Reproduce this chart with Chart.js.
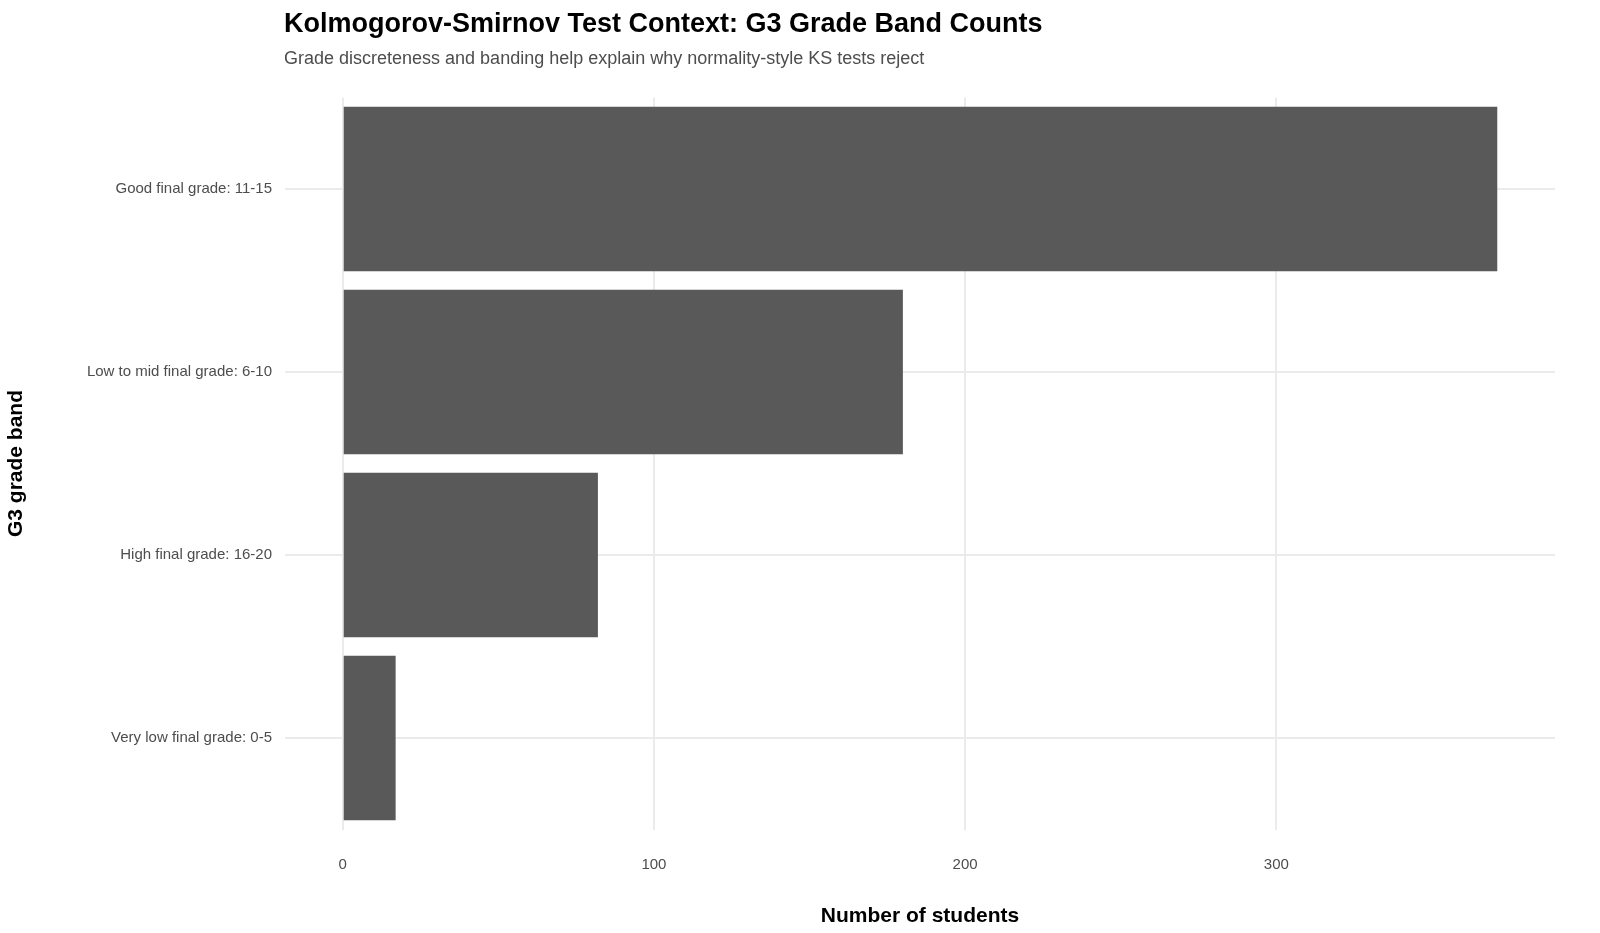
<!DOCTYPE html>
<html><head><meta charset="utf-8">
<script src="https://cdn.jsdelivr.net/npm/chart.js@4.4.0/dist/chart.umd.min.js"></script>
<style>html,body{margin:0;padding:0;background:#fff}#w{width:1600px;height:933px}</style>
</head><body><div id="w"><canvas id="c"></canvas></div>
<script>
const categories = ["Good final grade: 11-15","Low to mid final grade: 6-10","High final grade: 16-20","Very low final grade: 0-5"];
const counts = [371, 180, 82, 17];
const xTicks = [0, 100, 200, 300];
const titleText = "Kolmogorov-Smirnov Test Context: G3 Grade Band Counts";
const subtitleText = "Grade discreteness and banding help explain why normality-style KS tests reject";
const F = "Arial, 'Liberation Sans', sans-serif";
const titles = {id:'titles', afterDraw(ch){const c=ch.ctx;c.save();c.textBaseline='alphabetic';c.textAlign='left';
 c.fillStyle='#000';c.font='bold 27px '+F;c.fillText(titleText,284,32);
 c.fillStyle='#4d4d4d';c.font='18px '+F;c.fillText(subtitleText,284,64);c.restore();}};
new Chart(document.getElementById('c'),{type:'bar',
 data:{labels:categories,datasets:[{data:counts,backgroundColor:'#595959',barPercentage:0.9,categoryPercentage:1}]},
 options:{indexAxis:'y',responsive:true,maintainAspectRatio:false,animation:false,
  layout:{padding:{top:97.5,right:45,left:0,bottom:0}},
  plugins:{legend:{display:false},tooltip:{enabled:false}},
  scales:{
   x:{min:-18.55,max:389.55,afterBuildTicks(a){a.ticks=xTicks.map(v=>({value:v}));},
      afterFit(a){a.height=103.5;},
      grid:{color:'#ebebeb',lineWidth:2,drawTicks:false},border:{display:false},
      ticks:{color:'#4d4d4d',font:{size:15,family:F},padding:26},
      title:{display:true,text:'Number of students',color:'#000',font:{size:21,weight:'bold',family:F},padding:{top:0}}},
   y:{afterFit(a){a.width=285;},
      grid:{color:'#ebebeb',lineWidth:2,drawTicks:false,offset:false},border:{display:false},
      ticks:{color:'#4d4d4d',font:{size:15,family:F},padding:13},
      title:{display:true,text:'G3 grade band',color:'#000',font:{size:21,weight:'bold',family:F},padding:{bottom:6}}}
  }},plugins:[titles]});
</script></body></html>
